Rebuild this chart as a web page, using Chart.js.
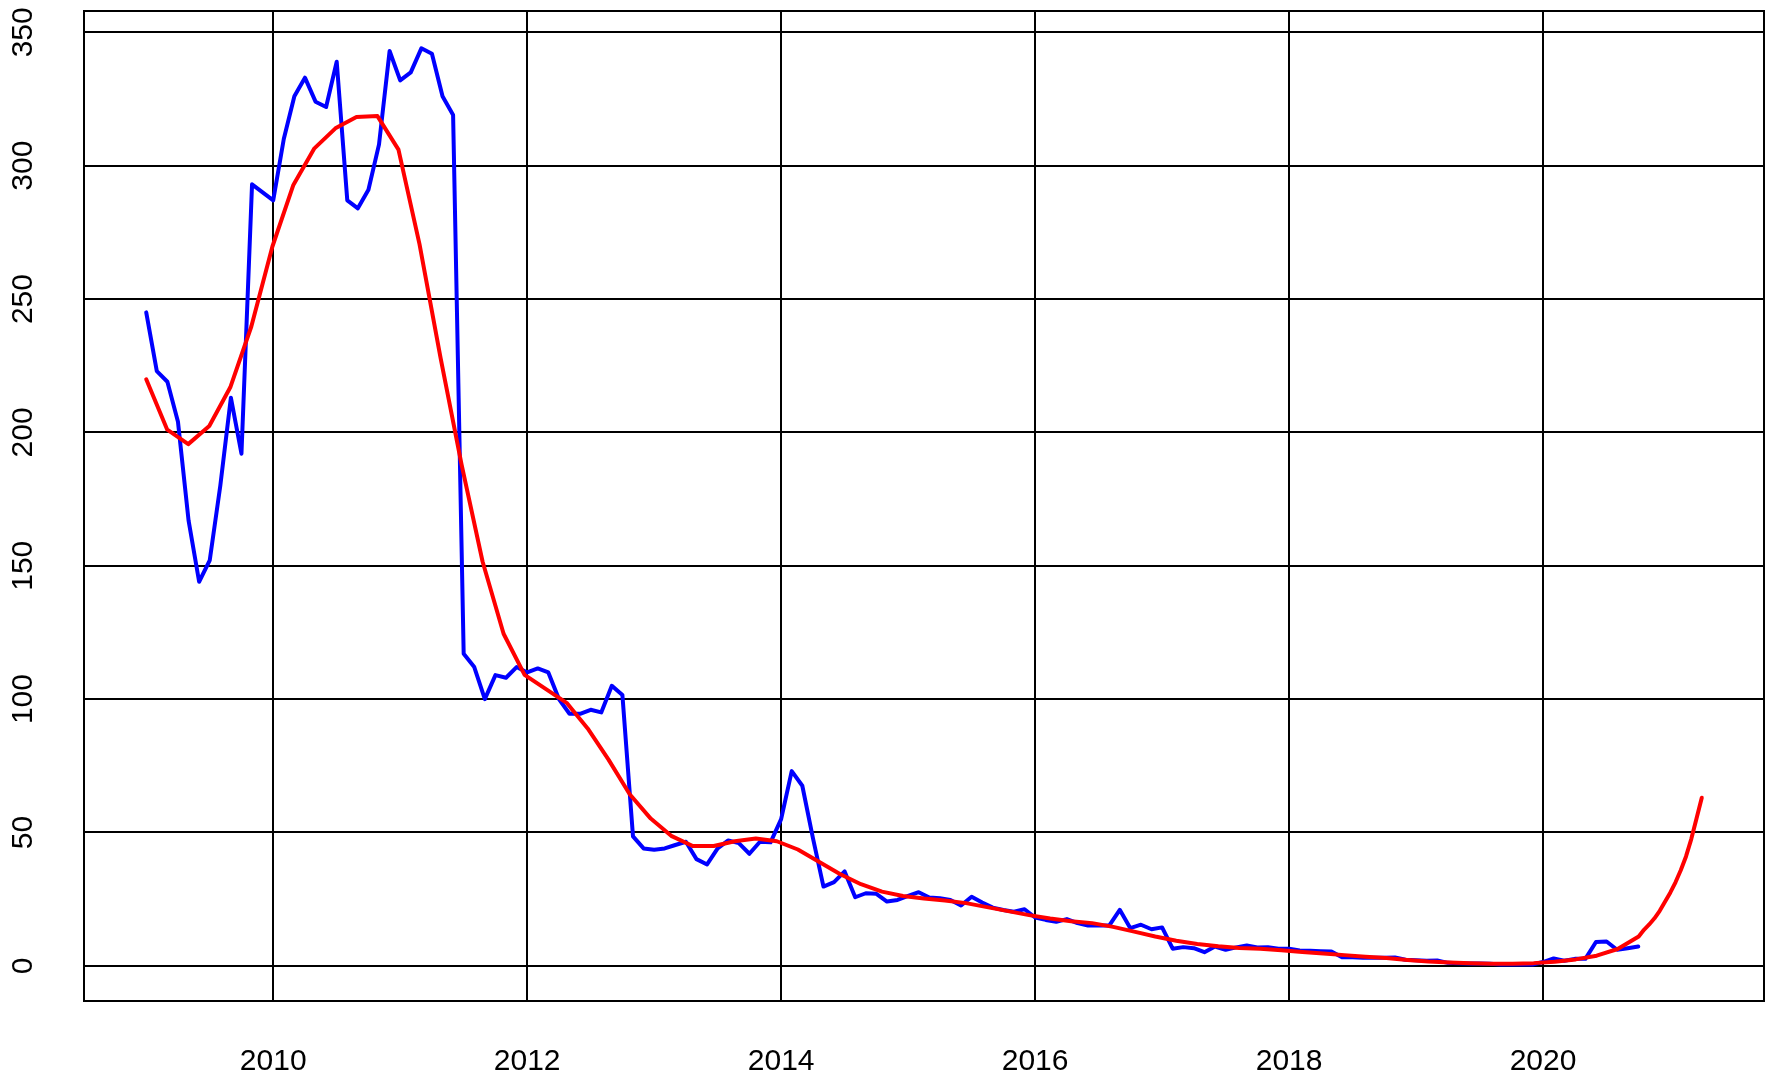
<!DOCTYPE html>
<html>
<head>
<meta charset="utf-8">
<script src="https://cdn.jsdelivr.net/npm/chart.js@4/dist/chart.umd.min.js"></script>
<style>
  body { margin: 0; background: #fff; }
</style>
</head>
<body>
<canvas id="myChart" width="1775" height="1077"></canvas>
<script>
const ctx = document.getElementById('myChart');

const startYear = 2009

// monthly values, Jan 2009 .. Oct 2020
const monthly = [
  245, 223, 219, 204, 167, 144, 152, 180, 213, 192, 293, 290,
  287, 310, 326, 333, 324, 322, 339, 287, 284, 291, 308, 343,
  332, 335, 344, 342, 326, 319, 117, 112, 100, 109, 108, 112,
  110, 111.5, 110, 100, 94.5, 94.5, 96, 95, 105, 101.5, 48.5, 44,
  43.5, 44, 45.3, 46.5, 40, 38, 44, 47, 46, 42, 46.5, 46.3,
  55, 73, 67.5, 48, 29.7, 31.4, 35.4, 25.7, 27.2, 27, 24.1, 24.7,
  26.2, 27.6, 25.6, 25.3, 24.7, 22.6, 25.9, 23.7, 21.8, 20.9, 20.3, 21.2,
  18.1, 17.2, 16.5, 17.5, 16, 15.1, 15.1, 15.1, 21, 14.1, 15.4, 13.7,
  14.4, 6.4, 7, 6.6, 5.1, 7.2, 6, 6.9, 7.6, 6.9, 7, 6.4,
  6.4, 5.7, 5.6, 5.5, 5.4, 3.2, 3.2, 3, 3, 3, 3.1, 2.25,
  2.1, 1.9, 2, 1.1, 1, 0.9, 0.9, 0.75, 0.5, 0.5, 0.5, 0.5,
  1.4, 2.75, 1.9, 2.6, 2.6, 8.9, 9.1, 6, 6.6, 7.25
]

// smooth trend, evenly spaced (step = 12.25 / 74 yr) from 2009
const trendStep = 12.25 / 74
const trend = [
  219.9, 201, 195.6, 202.4, 216.9, 239.7, 269.6, 292.8, 306.5, 314, 318.3, 318.6,
  306, 270.6, 228, 188, 151.6, 124.5, 109.1, 103.8, 98.6, 89, 77.2, 64.3,
  55.2, 48.6, 44.9, 44.9, 46.7, 47.7, 46.7, 43.6, 39, 34.4, 30.6, 27.8,
  26.2, 25.2, 24.5, 23.5, 22, 20.5, 19, 17.7, 16.7, 16, 14.6, 12.8,
  11, 9.4, 8.2, 7.3, 6.7, 6.4, 5.8, 5.2, 4.6, 4, 3.4, 2.9,
  2.2, 1.6, 1.2, 0.95, 0.8, 0.8, 1, 1.5, 2.4, 3.8, 6.3, 11
]
// the tail of the trend (to 2021.25) is finer, step / 4
const trendTail = [13.5, 15.5, 17.8, 20.6, 24, 27.4, 31.3, 35.8, 41, 47.5, 55.2, 63]

const xTicks = [2010, 2012, 2014, 2016, 2018, 2020]
const yTicks = [0, 50, 100, 150, 200, 250, 300, 350]

const monthlyPts = monthly.map((v, i) => ({ x: startYear + i / 12, y: v }))
const trendPts = trend.map((v, i) => ({ x: startYear + i * trendStep, y: v }))
const tailStart = startYear + (trend.length - 1) * trendStep
trendTail.forEach((v, k) => trendPts.push({ x: tailStart + (k + 1) * trendStep / 4, y: v }))

const fontFamily = '"Liberation Sans", Arial, Helvetica, sans-serif'

// box around plot + rotated y labels (R style)
const framePlugin = {
  id: 'frame',
  afterDraw(chart) {
    const c = chart.ctx
    const a = chart.chartArea
    c.save()
    c.strokeStyle = '#000'
    c.lineWidth = 2
    c.strokeRect(a.left, a.top, a.right - a.left, a.bottom - a.top)

    const y = chart.scales.y
    c.fillStyle = '#000'
    c.font = '30px ' + fontFamily
    c.textAlign = 'center'
    c.textBaseline = 'middle'
    yTicks.forEach(t => {
      c.save()
      c.translate(24, y.getPixelForValue(t))
      c.rotate(-Math.PI / 2)
      c.fillText(String(t), 0, 0)
      c.restore()
    })
    c.restore()
  }
}

new Chart(ctx, {
  type: 'line',
  data: {
    datasets: [{
      label: 'trend',
      data: trendPts,
      borderColor: '#ff0000',
      borderWidth: 4,
      pointRadius: 0,
      tension: 0,
      borderJoinStyle: 'round',
      borderCapStyle: 'round'
    }, {
      label: 'monthly',
      data: monthlyPts,
      borderColor: '#0000ff',
      borderWidth: 4,
      pointRadius: 0,
      tension: 0,
      borderJoinStyle: 'round',
      borderCapStyle: 'round'
    }]
  },
  options: {
    responsive: false,
    animation: false,
    devicePixelRatio: 1,
    layout: { padding: { top: 11, right: 11, left: 0, bottom: 0 } },
    plugins: {
      legend: { display: false },
      tooltip: { enabled: false }
    },
    scales: {
      x: {
        type: 'linear',
        min: 2008.51,
        max: 2021.74,
        afterBuildTicks: s => { s.ticks = xTicks.map(v => ({ value: v })) },
        afterFit: s => { s.height = 76 },
        grid: { color: '#000', lineWidth: 2, drawTicks: false },
        border: { display: false },
        ticks: {
          color: '#000',
          padding: 43,
          maxRotation: 0,
          font: { size: 30, family: fontFamily },
          callback: v => String(v)
        }
      },
      y: {
        type: 'linear',
        min: -13.2,
        max: 358,
        afterBuildTicks: s => { s.ticks = yTicks.map(v => ({ value: v })) },
        afterFit: s => { s.width = 84 },
        grid: { color: '#000', lineWidth: 2, drawTicks: false },
        border: { display: false },
        ticks: { display: false }
      }
    }
  },
  plugins: [framePlugin]
});
</script>
</body>
</html>
